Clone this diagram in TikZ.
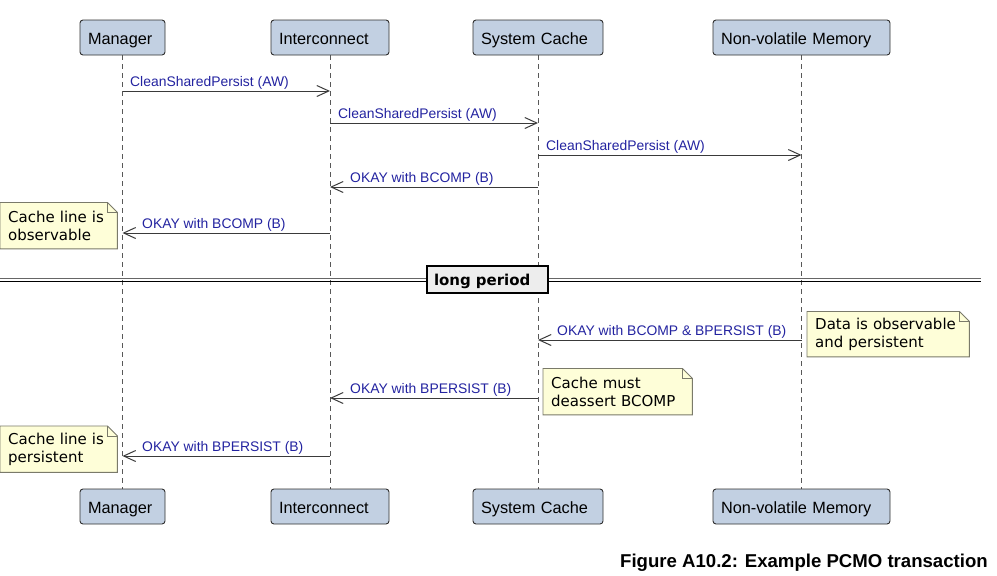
\documentclass[tikz,border=0pt]{standalone}
\usepackage{fontspec}
\setmainfont{Liberation Sans}
\newfontfamily\notefont{DejaVu Sans}
\usetikzlibrary{arrows.meta,backgrounds}
\definecolor{partfill}{HTML}{C2D0E2}
\definecolor{partdraw}{HTML}{2F2F2F}
\definecolor{msgcol}{HTML}{2323A0}
\definecolor{linecol}{HTML}{3A3A3A}
\definecolor{notefill}{HTML}{FEFED8}
\definecolor{notedraw}{HTML}{7A7A6A}
\begin{document}
\begin{tikzpicture}[x=1pt,y=-1pt,
  part/.style={draw=partdraw, fill=partfill, rounded corners=3pt, line width=0.9pt,
    minimum height=35pt, inner xsep=8pt, inner ysep=0pt, align=left,
    text height=14.5pt, text depth=1pt, font=\fontsize{16.3}{19}\selectfont},
  life/.style={draw=linecol!85, line width=1pt, dash pattern=on 5pt off 4pt},
  msg/.style={draw=linecol, line width=1pt, -{Straight Barb[length=12pt,width=11pt,line width=1pt]}},
  lbl/.style={anchor=base west, inner sep=0pt, text=msgcol, font=\fontsize{13.9}{16}\selectfont},
  notetext/.style={anchor=north west, inner xsep=8pt, inner ysep=0pt, align=left,
    font=\notefont\fontsize{15}{18}\selectfont},
  notebox/.style={draw=notedraw, fill=notefill, line width=0.9pt}
]
\useasboundingbox (0,0) rectangle (997,576);

% participants
\node[part, text width=69pt]  (mt) at (122.5,37.5) {Manager};
\node[part, text width=102pt] (it) at (330,37.5) {Interconnect};
\node[part, text width=114pt] (st) at (538,37.5) {System Cache};
\node[part, text width=161pt] (nt) at (801.5,37.5) {Non-volatile Memory};
\node[part, text width=69pt]  (mb) at (122.5,506.5) {Manager};
\node[part, text width=102pt] (ib) at (330,506.5) {Interconnect};
\node[part, text width=114pt] (sb) at (538,506.5) {System Cache};
\node[part, text width=161pt] (nb) at (801.5,506.5) {Non-volatile Memory};

% lifelines
\begin{scope}[on background layer]
\draw[life] (mt.south) -- (mb.north);
\draw[life] (it.south) -- (ib.north);
\draw[life] (st.south) -- (sb.north);
\draw[life] (nt.south) -- (nb.north);
\end{scope}

% message end points
\coordinate (m1a) at (122.5,91);  \coordinate (m1b) at (330,91);
\coordinate (m2a) at (330,123);   \coordinate (m2b) at (538,123);
\coordinate (m3a) at (538,155);   \coordinate (m3b) at (801.5,155);
\coordinate (m4a) at (538,187);   \coordinate (m4b) at (330,187);
\coordinate (m5a) at (330,233);   \coordinate (m5b) at (122.5,233);
\coordinate (m6a) at (801.5,340); \coordinate (m6b) at (538,340);
\coordinate (m7a) at (538,398);   \coordinate (m7b) at (330,398);
\coordinate (m8a) at (330,456);   \coordinate (m8b) at (122.5,456);

\draw[msg] (m1a) -- (m1b);
\node[lbl] (l1) at (130,86) {CleanSharedPersist (AW)};
\draw[msg] (m2a) -- (m2b);
\node[lbl] (l2) at (338,118) {CleanSharedPersist (AW)};
\draw[msg] (m3a) -- (m3b);
\node[lbl] (l3) at (546,150) {CleanSharedPersist (AW)};
\draw[msg] (m4a) -- (m4b);
\node[lbl] (l4) at (350,182) {OKAY with BCOMP (B)};
\draw[msg] (m5a) -- (m5b);
\node[lbl] (l5) at (142,228) {OKAY with BCOMP (B)};
\draw[msg] (m6a) -- (m6b);
\node[lbl] (l6) at (557,335) {OKAY with BCOMP \& BPERSIST (B)};
\draw[msg] (m7a) -- (m7b);
\node[lbl] (l7) at (350,393) {OKAY with BPERSIST (B)};
\draw[msg] (m8a) -- (m8b);
\node[lbl] (l8) at (142,451) {OKAY with BPERSIST (B)};

% notes
\node[notetext, text width=101pt, minimum height=46pt] (n1) at (0,202.5)
  {\vphantom{Ay}Cache line is\\observable};
\node[notetext, text width=146pt, minimum height=45pt] (n2) at (807,311.5)
  {\vphantom{Ay}Data is observable\\and persistent};
\node[notetext, text width=133pt, minimum height=46pt] (n3) at (543,368.5)
  {\vphantom{Ay}Cache must\\deassert BCOMP};
\node[notetext, text width=101pt, minimum height=46pt] (n4) at (0,426)
  {\vphantom{Ay}Cache line is\\persistent};
\begin{scope}[on background layer]
\foreach \n in {n1,n2,n3,n4}{
  \draw[notebox] (\n.north west) -- ([xshift=-10pt]\n.north east) -- ([yshift=-10pt]\n.north east)
    -- (\n.south east) -- (\n.south west) -- cycle;
  \draw[draw=notedraw, line width=0.9pt] ([xshift=-10pt]\n.north east) -- ([xshift=-10pt,yshift=-10pt]\n.north east)
    -- ([yshift=-10pt]\n.north east);
}
\end{scope}

% divider
\coordinate (dl) at (0,278.3);   \coordinate (dr) at (981,278.3);
\coordinate (el) at (0,281.8);   \coordinate (er) at (981,281.8);
\draw[line width=1.6pt, draw=black!60] (dl) -- (dr);
\draw[line width=1.3pt, draw=black] (el) -- (er);
\node[draw=black, line width=1.8pt, fill=black!7, text width=107pt, align=left, minimum height=27pt,
  inner xsep=7pt, inner ysep=0pt, text height=13pt, text depth=1.2pt,
  font=\notefont\bfseries\fontsize{15}{18}\selectfont] (lp) at (487.5,279.5) {long period};

% caption
\node[anchor=base east, inner sep=0pt, font=\bfseries\fontsize{18.6}{22}\selectfont] (cap) at (988,567.5)
  {Figure A10.2: Example PCMO transaction};
\end{tikzpicture}
\end{document}
